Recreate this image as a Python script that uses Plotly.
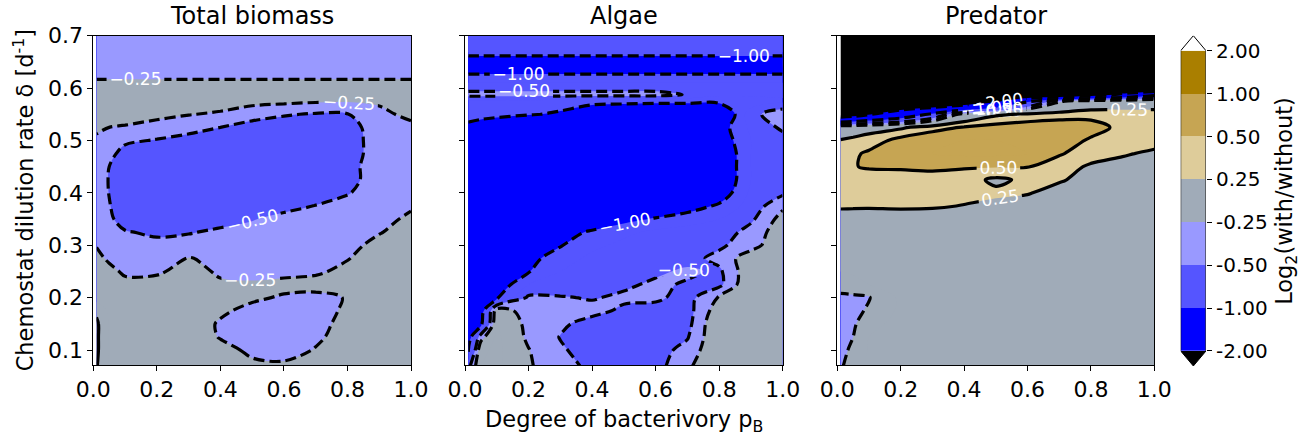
import numpy as np
import plotly.graph_objects as go

# ---------------- data ----------------
# grid columns: degree of bacterivory p_B
x_grid = [0.01, 0.05, 0.1, 0.2, 0.3, 0.4, 0.5, 0.6, 0.7, 0.8, 0.9, 1.0]
# grid rows: chemostat dilution rate (listed top to bottom)
y_grid = [0.7, 0.675, 0.65, 0.625, 0.6, 0.5875, 0.575, 0.55, 0.525, 0.5, 0.475,
          0.45, 0.425, 0.4, 0.375, 0.35, 0.325, 0.3, 0.275, 0.25, 0.225, 0.2,
          0.175, 0.15, 0.125, 0.1, 0.07]

# log2(with/without), rows follow y_grid, columns follow x_grid
total_biomass = [
    [-.35, -.35, -.35, -.35, -.35, -.35, -.35, -.35, -.35, -.35, -.35, -.35],
    [-.35, -.35, -.35, -.35, -.35, -.35, -.35, -.35, -.35, -.35, -.35, -.35],
    [-.35, -.35, -.35, -.35, -.35, -.35, -.35, -.35, -.35, -.35, -.35, -.35],
    [-.30, -.30, -.30, -.30, -.30, -.30, -.30, -.30, -.30, -.30, -.30, -.30],
    [-.15, -.15, -.15, -.15, -.15, -.15, -.15, -.15, -.15, -.15, -.15, -.15],
    [-.10, -.10, -.10, -.10, -.10, -.10, -.10, -.10, -.10, -.10, -.10, -.10],
    [-.10, -.10, -.10, -.10, -.12, -.15, -.17, -.19, -.22, -.23, -.22, -.12],
    [-.12, -.13, -.15, -.20, -.24, -.28, -.40, -.48, -.52, -.51, -.30, -.20],
    [-.22, -.25, -.27, -.32, -.40, -.50, -.60, -.62, -.62, -.62, -.35, -.30],
    [-.28, -.35, -.45, -.52, -.60, -.65, -.70, -.70, -.70, -.65, -.35, -.32],
    [-.30, -.42, -.60, -.65, -.70, -.70, -.70, -.70, -.70, -.65, -.35, -.32],
    [-.30, -.50, -.70, -.70, -.70, -.70, -.70, -.70, -.70, -.60, -.35, -.32],
    [-.30, -.52, -.70, -.70, -.70, -.70, -.70, -.70, -.70, -.60, -.35, -.32],
    [-.30, -.51, -.70, -.70, -.70, -.70, -.70, -.70, -.65, -.52, -.35, -.30],
    [-.30, -.48, -.70, -.70, -.70, -.70, -.65, -.60, -.49, -.40, -.33, -.27],
    [-.30, -.45, -.62, -.65, -.65, -.60, -.52, -.40, -.35, -.33, -.30, -.22],
    [-.28, -.38, -.48, -.55, -.52, -.45, -.40, -.35, -.33, -.30, -.26, -.18],
    [-.26, -.32, -.40, -.42, -.38, -.35, -.35, -.33, -.32, -.30, -.20, -.15],
    [-.20, -.28, -.35, -.35, -.24, -.30, -.33, -.32, -.30, -.26, -.15, -.12],
    [-.15, -.20, -.28, -.27, -.20, -.27, -.32, -.30, -.28, -.20, -.12, -.10],
    [-.12, -.15, -.20, -.20, -.15, -.23, -.22, -.20, -.18, -.20, -.10, -.10],
    [-.10, -.12, -.15, -.15, -.12, -.15, -.22, -.27, -.30, -.24, -.10, -.08],
    [ .20, -.05, -.10, -.10, -.12, -.22, -.30, -.33, -.32, -.22, -.10, -.08],
    [ .30, -.02, -.10, -.10, -.15, -.27, -.33, -.35, -.30, -.20, -.10, -.08],
    [ .30, -.02, -.10, -.10, -.15, -.26, -.33, -.35, -.28, -.18, -.10, -.08],
    [ .30, -.02, -.10, -.10, -.12, -.20, -.28, -.32, -.24, -.15, -.10, -.08],
    [ .27, -.02, -.10, -.10, -.10, -.15, -.22, -.22, -.18, -.12, -.10, -.08],
]

algae = [
    [-.70, -.70, -.70, -.70, -.70, -.70, -.70, -.70, -.70, -.70, -.70, -.70],
    [-.52, -.52, -.52, -.52, -.52, -.52, -.52, -.52, -.52, -.52, -.52, -.52],
    [-1.40, -1.40, -1.40, -1.40, -1.40, -1.40, -1.40, -1.40, -1.40, -1.40, -1.40, -1.40],
    [-.97, -.97, -.97, -.97, -.97, -.97, -.97, -.97, -.97, -.97, -.97, -.97],
    [-.60, -.60, -.60, -.60, -.60, -.60, -.60, -.60, -.60, -.60, -.60, -.60],
    [-.40, -.40, -.40, -.40, -.40, -.40, -.40, -.40, -.52, -.70, -.70, -.70],
    [-.80, -.80, -.80, -.80, -.85, -.92, -.92, -.92, -.92, -.92, -.90, -.80],
    [-.85, -.87, -.90, -.97, -1.05, -1.20, -1.30, -1.40, -1.40, -1.40, -.60, -.30],
    [-1.10, -1.20, -1.30, -1.50, -1.60, -1.60, -1.60, -1.60, -1.60, -1.15, -.70, -.45],
    [-1.40, -1.50, -1.60, -1.70, -1.70, -1.70, -1.70, -1.70, -1.60, -1.20, -.75, -.60],
    [-1.50, -1.60, -1.70, -1.70, -1.70, -1.70, -1.70, -1.70, -1.60, -1.30, -.75, -.60],
    [-1.50, -1.60, -1.70, -1.70, -1.70, -1.70, -1.70, -1.70, -1.60, -1.30, -.75, -.60],
    [-1.50, -1.60, -1.70, -1.70, -1.70, -1.70, -1.70, -1.70, -1.60, -1.30, -.75, -.60],
    [-1.50, -1.60, -1.70, -1.70, -1.70, -1.70, -1.70, -1.60, -1.50, -1.20, -.70, -.55],
    [-1.50, -1.55, -1.60, -1.60, -1.60, -1.60, -1.50, -1.30, -1.15, -.95, -.65, -.30],
    [-1.60, -1.60, -1.60, -1.60, -1.50, -1.30, -1.10, -.97, -.85, -.75, -.55, -.15],
    [-1.60, -1.60, -1.60, -1.40, -1.15, -.95, -.80, -.70, -.65, -.65, -.40, -.10],
    [-1.60, -1.60, -1.50, -1.20, -1.02, -.80, -.70, -.70, -.65, -.55, -.35, -.05],
    [-1.60, -1.50, -1.30, -1.10, -.85, -.70, -.70, -.65, -.60, -.42, -.10, .00],
    [-1.50, -1.45, -1.30, -1.02, -.75, -.65, -.62, -.55, -.45, -.55, -.05, .00],
    [-1.50, -1.40, -1.20, -.75, -.65, -.62, -.55, -.45, -.53, -.57, .00, .00],
    [-1.50, -1.30, -1.05, -.45, -.48, -.52, -.45, -.45, -.60, -.22, .00, .00],
    [-1.40, -1.20, -.10, -.38, -.35, -.42, -.55, -.60, -.60, -.10, .00, .00],
    [-1.30, -1.10, .00, -.32, -.45, -.60, -.65, -.60, -.58, .00, .00, .00],
    [-1.20, -.35, .05, -.30, -.51, -.65, -.65, -.60, -.52, .00, .00, .00],
    [-1.05, -.05, .05, -.24, -.47, -.60, -.65, -.60, -.42, .00, .00, .00],
    [-.60, .00, .05, -.22, -.42, -.55, -.60, -.60, -.30, .00, .00, .00],
]

predator = [
    [-3.0, -3.0, -3.0, -3.0, -3.0, -3.0, -3.0, -3.0, -3.0, -3.0, -3.0, -3.0],
    [-3.0, -3.0, -3.0, -3.0, -3.0, -3.0, -3.0, -3.0, -3.0, -3.0, -3.0, -3.0],
    [-3.0, -3.0, -3.0, -3.0, -3.0, -3.0, -3.0, -3.0, -3.0, -3.0, -3.0, -3.0],
    [-3.0, -3.0, -3.0, -3.0, -3.0, -3.0, -3.0, -3.0, -3.0, -3.0, -3.0, -3.0],
    [-3.0, -3.0, -3.0, -3.0, -3.0, -3.0, -3.0, -3.0, -3.0, -3.0, -3.0, -3.0],
    [-3.0, -3.0, -3.0, -3.0, -3.0, -3.0, -3.0, -3.0, -3.0, -2.5, -1.8, -1.2],
    [-3.0, -3.0, -3.0, -3.0, -3.0, -2.8, -2.2, -1.1, -.30, .00, .05, .10],
    [-2.6, -2.4, -2.05, -1.5, -.90, -.10, .20, .30, .35, .38, .36, .33],
    [.10, .10, .15, .20, .40, .52, .60, .65, .70, .65, .40, .35],
    [.26, .30, .35, .60, .70, .75, .75, .75, .70, .45, .40, .35],
    [.38, .45, .55, .70, .75, .80, .80, .75, .52, .40, .28, .20],
    [.42, .49, .52, .53, .55, .53, .52, .51, .40, .20, .15, .10],
    [.42, .42, .40, .40, .40, .35, .20, .30, .28, .15, .10, .10],
    [.35, .35, .35, .35, .35, .33, .30, .27, .15, .10, .10, .08],
    [.28, .28, .28, .29, .28, .24, .18, .12, .10, .08, .08, .08],
    [.15, .13, .12, .12, .12, .10, .08, .08, .08, .08, .08, .08],
    [.10, .08, .08, .08, .08, .06, .05, .05, .05, .05, .05, .05],
    [.08, .06, .05, .05, .05, .05, .05, .05, .05, .05, .05, .05],
    [.05, .05, .05, .05, .05, .05, .05, .05, .05, .05, .05, .05],
    [.00, .03, .05, .05, .05, .05, .05, .05, .05, .05, .05, .05],
    [-.10, -.08, .00, .05, .05, .05, .05, .05, .05, .05, .05, .05],
    [-.32, -.30, -.27, .05, .05, .05, .05, .05, .05, .05, .05, .05],
    [-.42, -.35, -.20, .05, .05, .05, .05, .05, .05, .05, .05, .05],
    [-.42, -.30, -.05, .05, .05, .05, .05, .05, .05, .05, .05, .05],
    [-.40, -.25, .00, .05, .05, .05, .05, .05, .05, .05, .05, .05],
    [-.35, -.18, .02, .05, .05, .05, .05, .05, .05, .05, .05, .05],
    [-.30, -.08, .03, .05, .05, .05, .05, .05, .05, .05, .05, .05],
]

panel_titles = ["Total biomass", "Algae", "Predator"]
panel_data = [total_biomass, algae, predator]

# contour levels and band colours (below first level ... above last level)
levels = [-2.0, -1.0, -0.5, -0.25, 0.25, 0.5, 1.0, 2.0]
band_colors = ["#000000", "#0000FF", "#5555FF", "#9999FF", "#A0ABB8",
               "#DECC9A", "#C6A553", "#AA7F00", "#FFFFFF"]

# ---------------- fill colour scale on a fine uniform step ----------------
step = 0.25
fine_levels = np.arange(levels[0], levels[-1] + step / 2, step)
n_fine = len(fine_levels)
fill_scale = []
for j in range(n_fine + 1):
    # band j sits above fine level j-1 (j = 0: below the first level)
    mid = fine_levels[0] - step / 2 + j * step
    band = int(np.searchsorted(levels, mid))
    fill_scale.append([j / n_fine, band_colors[band]])

# ---------------- layout geometry ----------------
W, H = 1309, 438
panel_px = [(93.3, 411.0), (465.0, 782.7), (837.3, 1154.3)]
plot_top, plot_bot = 35.7, 365.0
cbar_px = (1180.7, 1206.0)
cbar_top, cbar_bot = 35.7, 366.0
tri = 0.35  # colorbar extension triangle height (in band units)

FONT = "DejaVu Sans"
ydom = [1 - plot_bot / H, 1 - plot_top / H]

y_list = list(reversed(y_grid))
fig = go.Figure()

for i, (zrows, title) in enumerate(zip(panel_data, panel_titles)):
    z = [list(r) for r in reversed(zrows)]
    xa = "x" if i == 0 else f"x{i + 1}"
    ya = "y" if i == 0 else f"y{i + 1}"
    fig.add_trace(go.Contour(
        x=x_grid, y=y_list, z=z, xaxis=xa, yaxis=ya, autocontour=False,
        contours=dict(start=float(fine_levels[0]), end=float(fine_levels[-1]),
                      size=step, coloring="fill", showlines=False),
        colorscale=fill_scale, line=dict(width=0),
        showscale=False, hoverinfo="skip"))
    for lev in levels:
        fig.add_trace(go.Contour(
            x=x_grid, y=y_list, z=z, xaxis=xa, yaxis=ya, autocontour=False,
            contours=dict(start=lev, end=lev, size=1, coloring="none",
                          showlabels=True, labelformat=".2f",
                          labelfont=dict(family=FONT, size=17, color="white")),
            line=dict(color="black", width=3.2,
                      dash="11px,5px" if lev < 0 else "solid"),
            showscale=False, hoverinfo="skip"))

    x0, x1 = panel_px[i]
    dom = [x0 / W, x1 / W]
    axis_common = dict(showline=True, linecolor="black", linewidth=1, mirror=True,
                       ticks="outside", ticklen=5, tickwidth=1, tickcolor="black",
                       showgrid=False, zeroline=False, automargin=False,
                       tickfont=dict(family=FONT, size=22, color="black"))
    fig.update_layout({
        ("xaxis" if i == 0 else f"xaxis{i + 1}"): dict(
            domain=dom, range=[0, 1], tick0=0, dtick=0.2, tickformat=".1f",
            anchor=ya, **axis_common),
        ("yaxis" if i == 0 else f"yaxis{i + 1}"): dict(
            domain=ydom, range=[0.0714, 0.7], tick0=0.1, dtick=0.1, tickformat=".1f",
            anchor=xa, showticklabels=(i == 0), **axis_common),
    })
    fig.add_annotation(x=sum(dom) / 2, y=1 - 32 / H, xref="paper", yref="paper",
                       text=title, showarrow=False, xanchor="center", yanchor="bottom",
                       font=dict(family=FONT, size=24, color="black"))

# ---------------- colour bar (own small axis) ----------------
n_bands = len(levels) - 1
cb_colors = band_colors[1:-1]
cs = []
for k, c in enumerate(cb_colors):
    cs += [[k / n_bands, c], [(k + 1) / n_bands, c]]
fig.add_trace(go.Heatmap(
    x=[0.5], y=[k + 0.5 for k in range(n_bands)], z=[[k] for k in range(n_bands)],
    colorscale=cs, zmin=-0.5, zmax=n_bands - 0.5, showscale=False,
    xaxis="x4", yaxis="y4", hoverinfo="skip"))
fig.add_trace(go.Scatter(
    x=[0, 1, 0.5, 0], y=[0, 0, -tri, 0], fill="toself", fillcolor=band_colors[0],
    mode="lines", line=dict(width=0), xaxis="x4", yaxis="y4", hoverinfo="skip"))
fig.add_trace(go.Scatter(
    x=[0, 1, 0.5, 0], y=[n_bands, n_bands, n_bands + tri, n_bands], fill="toself",
    fillcolor=band_colors[-1], mode="lines", line=dict(width=0),
    xaxis="x4", yaxis="y4", hoverinfo="skip"))
fig.add_trace(go.Scatter(
    x=[0, 0.5, 1, 1, 0.5, 0, 0],
    y=[0, -tri, 0, n_bands, n_bands + tri, n_bands, 0],
    mode="lines", line=dict(color="black", width=1),
    xaxis="x4", yaxis="y4", hoverinfo="skip"))

fig.update_layout(
    xaxis4=dict(domain=[cbar_px[0] / W, cbar_px[1] / W], range=[0, 1], visible=False,
                anchor="y4", automargin=False),
    yaxis4=dict(domain=[1 - cbar_bot / H, 1 - cbar_top / H], range=[-tri, n_bands + tri],
                anchor="x4", side="right", tickmode="array",
                tickvals=list(range(n_bands + 1)),
                ticktext=[f"{v:.2f}" for v in levels],
                ticks="outside", ticklen=5, tickwidth=1, tickcolor="black",
                showline=False, showgrid=False, zeroline=False, automargin=False,
                tickfont=dict(family=FONT, size=20, color="black")),
)

# ---------------- axis labels ----------------
fig.add_annotation(x=sum(p / W for p in panel_px[1]) / 2, y=1 - 421 / H,
                   xref="paper", yref="paper", showarrow=False,
                   text="Degree of bacterivory p<sub>B</sub>",
                   xanchor="center", yanchor="middle",
                   font=dict(family=FONT, size=22.5, color="black"))
fig.add_annotation(x=23 / W, y=1 - (plot_top + plot_bot) / 2 / H,
                   xref="paper", yref="paper", showarrow=False, textangle=-90,
                   text="Chemostat dilution rate δ [d<sup>-1</sup>]",
                   xanchor="center", yanchor="middle",
                   font=dict(family=FONT, size=22.5, color="black"))
fig.add_annotation(x=1286 / W, y=1 - (cbar_top + cbar_bot) / 2 / H,
                   xref="paper", yref="paper", showarrow=False, textangle=-90,
                   text="Log<sub>2</sub>(with/without)",
                   xanchor="center", yanchor="middle",
                   font=dict(family=FONT, size=22.5, color="black"))

fig.update_layout(template="none", width=W, height=H,
                  margin=dict(l=0, r=0, t=0, b=0, pad=0), autosize=False,
                  paper_bgcolor="white", plot_bgcolor="white", showlegend=False,
                  font=dict(family=FONT, color="black"))

fig.write_html("out.html")
